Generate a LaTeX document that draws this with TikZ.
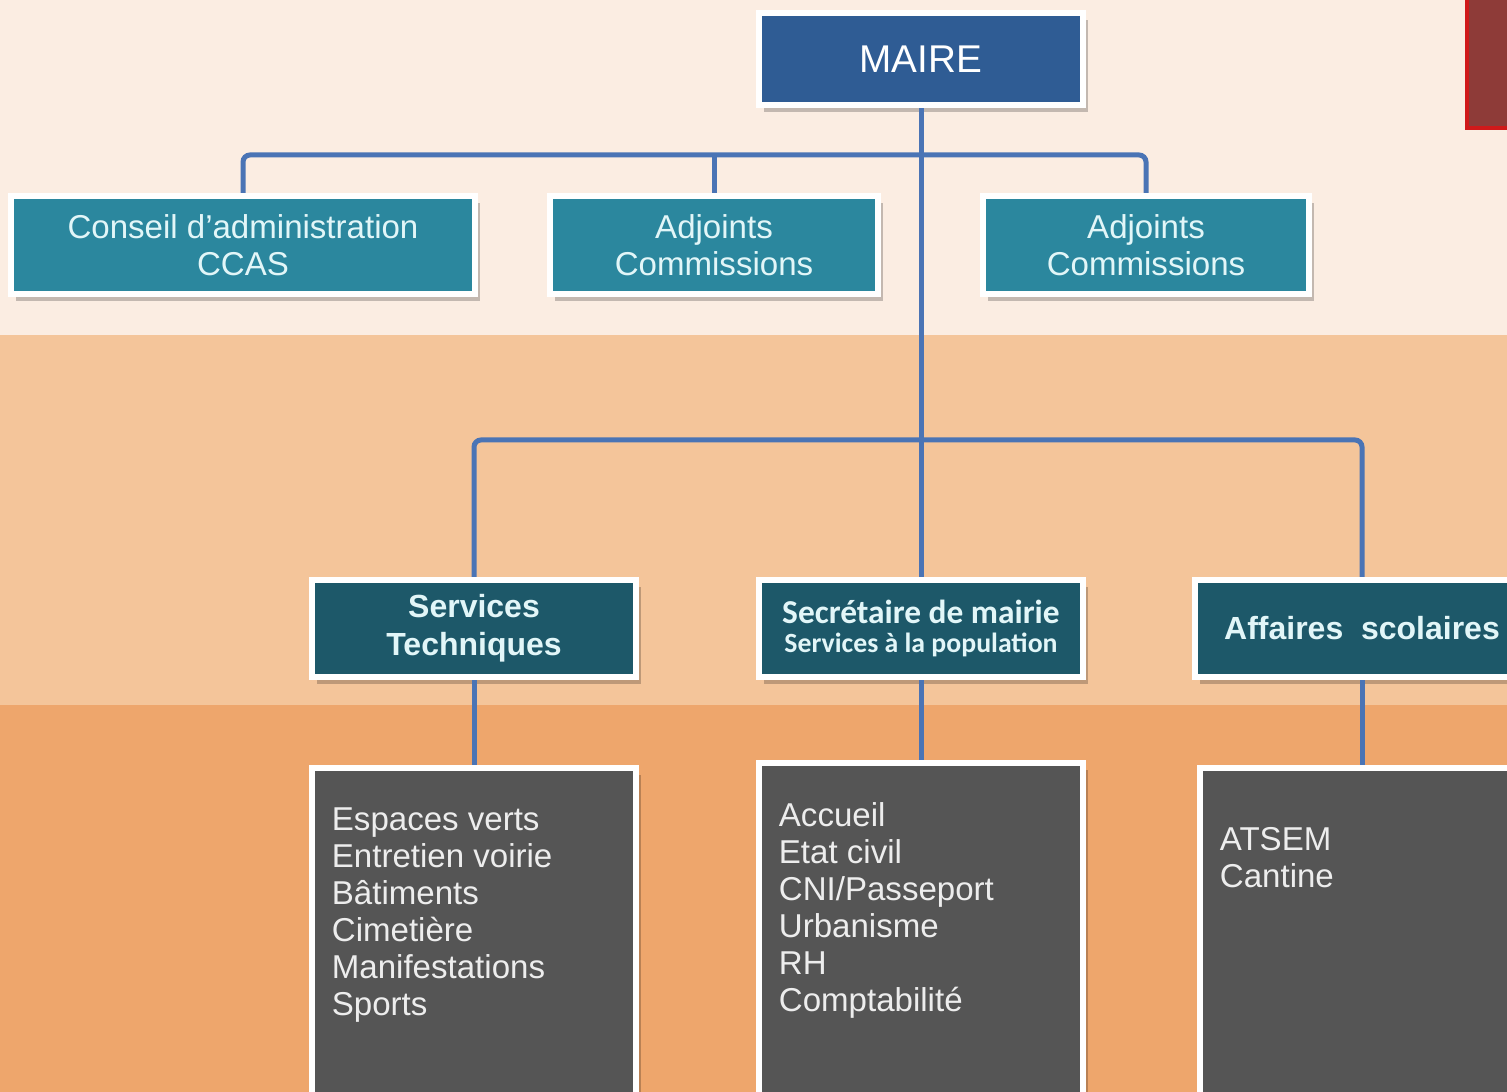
\documentclass[tikz,border=0pt]{standalone}
\usepackage{fontspec}
\setmainfont{Liberation Sans}
\newfontfamily\calib{Carlito}
\usetikzlibrary{shadows}
\definecolor{bandA}{RGB}{251,237,226}
\definecolor{bandB}{RGB}{244,197,154}
\definecolor{bandC}{RGB}{238,166,108}
\definecolor{mairblue}{RGB}{47,92,148}
\definecolor{adjteal}{RGB}{43,135,158}
\definecolor{servteal}{RGB}{29,88,105}
\definecolor{listgray}{RGB}{85,85,85}
\definecolor{linkblue}{RGB}{74,116,181}
\definecolor{paletext}{RGB}{226,246,248}
\definecolor{redline}{RGB}{208,25,26}
\definecolor{redbox}{RGB}{142,59,56}
\begin{document}
\begin{tikzpicture}[x=0.01cm,y=-0.01cm,
  box/.style={draw=white,line width=0.06cm,inner sep=0pt,align=center,
    drop shadow={shadow xshift=0.05cm,shadow yshift=-0.07cm,opacity=0.22,fill=black}},
  topbox/.style={box,fill=mairblue,text=white,minimum width=3.24cm,minimum height=0.92cm,
    font=\fontsize{11}{13}\selectfont},
  adjbox/.style={box,fill=adjteal,text=paletext,minimum height=0.98cm,
    font=\fontsize{9.4}{10.5}\selectfont},
  servbox/.style={box,fill=servteal,text=paletext,minimum height=0.97cm,
    font=\bfseries\fontsize{9.1}{10.8}\selectfont},
  listbox/.style={box,fill=listgray,text=black!7,anchor=north,minimum width=3.24cm,
    inner xsep=0.2cm,inner ysep=0.4cm,text depth=3cm,align=left,
    font=\fontsize{9.4}{10.5}\selectfont},
  link/.style={draw=linkblue,line width=0.05cm,rounded corners=2pt}]
\useasboundingbox (0,0) rectangle (1507,1092);
\clip (0,0) rectangle (1507,1092);
\fill[bandA] (0,0) rectangle (1507,335);
\fill[bandB] (0,335) rectangle (1507,705);
\fill[bandC] (0,705) rectangle (1507,1092);
\filldraw[fill=redbox,draw=redline,line width=0.04cm] (1467,-10) rectangle (1530,128);

\node[topbox] (maire) at (921,59) {MAIRE};

\node[adjbox,minimum width=4.63cm] (ccas) at (243,245) {Conseil d’administration\\CCAS};
\node[adjbox,minimum width=3.27cm] (adjA) at (714,245) {Adjoints\\Commissions};
\node[adjbox,minimum width=3.26cm] (adjB) at (1146,245) {Adjoints\\Commissions};

\node[servbox,minimum width=3.24cm] (stech) at (474,628.5) {Services\\Techniques};
\node[servbox,minimum width=3.24cm,font=\calib\bfseries\fontsize{9.5}{8.5}\selectfont] (secr) at (921,628.5)
  {Secrétaire de mairie\\\fontsize{7.9}{8.5}\selectfont Services à la population};
\node[servbox,minimum width=3.34cm] (scol) at (1362,628.5) {Affaires\ \ scolaires};

\node[listbox] (stlist) at (474,765) {\parbox[t]{2.84cm}{Espaces verts\\Entretien voirie\\Bâtiments\\Cimetière\\Manifestations\\Sports}};
\node[listbox] (secrlist) at (921,760) {\parbox[t]{2.84cm}{Accueil\\Etat civil\\CNI/Passeport\\Urbanisme\\RH\\Comptabilité}};
\node[listbox,inner ysep=0.59cm] (scollist) at (1362,765) {\parbox[t]{2.84cm}{ATSEM\\Cantine}};

\draw[link] (maire.south) -- (secr.north);
\draw[link] (ccas.north) -- ++(0,-38) -| (adjB.north);
\draw[link] (adjA.north) -- ++(0,-38);
\draw[link] (stech.north) -- ++(0,-137) -| (scol.north);
\draw[link] (stech.south) -- (stlist.north);
\draw[link] (secr.south) -- (secrlist.north);
\draw[link] (scol.south) -- (scollist.north);
\end{tikzpicture}
\end{document}
